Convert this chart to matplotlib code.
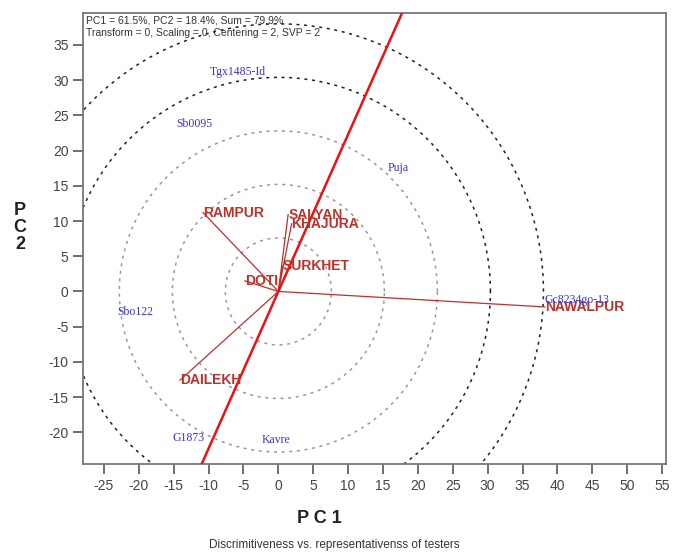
import numpy as np
import matplotlib
matplotlib.use('Agg')
import matplotlib.pyplot as plt

plt.rcParams['axes.unicode_minus'] = False

# testers (environment vectors)
env_names = ['RAMPUR', 'SALYAN', 'KHAJURA', 'SURKHET', 'DOTI', 'NAWALPUR', 'DAILEKH']
env_x = [-10.8, 1.4, 1.9, 0.6, -4.8, 38.2, -14.1]
env_y = [11.2, 10.9, 9.6, 3.6, 1.5, -2.2, -12.6]

# genotypes
gen_names = ['Tgx1485-Id', 'Sb0095', 'Puja', 'Sbo122', 'Gc8234go-13', 'G1873', 'Kavre']
gen_x = [-9.8, -14.7, 15.7, -23.1, 38.2, -15.2, -2.4]
gen_y = [31.2, 23.8, 17.5, -2.9, -1.2, -20.8, -21.1]

# concentric circle radii and AEA slope
radii = [7.6, 15.2, 22.8, 30.4, 38.0]
aea_slope = 2.23

fig = plt.figure(figsize=(6.75, 5.53), dpi=100)
ax = fig.add_axes([0.123, 0.161, 0.864, 0.815])

xmin, xmax = -28.0, 55.6
ymin, ymax = -24.5, 39.5

t = np.linspace(0, 2*np.pi, 600)
for r in radii:
    col = '#222222' if r > 25 else '#999999'
    ax.plot(r*np.cos(t), r*np.sin(t), color=col, lw=1.1,
            linestyle=(0, (2, 3)), zorder=1)

# average environment axis
xs = np.array([xmin, xmax])
ax.plot(xs, aea_slope*xs, color='#ee1111', lw=1.8, zorder=3)

for n, x, y in zip(env_names, env_x, env_y):
    ax.plot([0, x], [0, y], color='#c0302a', lw=0.9, zorder=2)
    ax.text(x, y, n, color='#c0302a', fontsize=10, fontweight='bold',
            family='Liberation Sans', ha='left', va='center', zorder=4)

for n, x, y in zip(gen_names, gen_x, gen_y):
    ax.text(x, y, n, color='#3333dd', fontsize=8.5, family='Liberation Serif',
            ha='left', va='center', zorder=4)

ax.text(0.005, 0.995, 'PC1 = 61.5%, PC2 = 18.4%, Sum = 79.9%\nTransform = 0, Scaling = 0, Centering = 2, SVP = 2',
        transform=ax.transAxes, ha='left', va='top', fontsize=7.5,
        family='Liberation Sans', color='#333333', linespacing=1.25)

ax.set_xlim(xmin, xmax)
ax.set_ylim(ymin, ymax)
ax.set_xticks(np.arange(-25, 56, 5))
ax.set_yticks(np.arange(-20, 36, 5))
for s in ax.spines.values():
    s.set_color('#777777')
    s.set_linewidth(1.3)
ax.tick_params(direction='out', length=7, width=1.2, color='#555555',
               labelsize=10, labelcolor='#444444')
for lab in ax.get_xticklabels() + ax.get_yticklabels():
    lab.set_family('Liberation Sans')

fig.text(0.473, 0.063, 'P C 1', ha='center', va='center', fontsize=13,
         fontweight='bold', family='Liberation Sans', color='#222222')
fig.text(0.03, 0.588, 'P\nC\n2', ha='center', va='center', fontsize=13,
         fontweight='bold', family='Liberation Sans', color='#222222',
         linespacing=1.0)
fig.text(0.495, 0.014, 'Discrimitiveness vs. representativenss of testers',
         ha='center', va='center', fontsize=8.5, family='Liberation Sans',
         color='#333333')

fig.savefig('out.png', dpi=100)
